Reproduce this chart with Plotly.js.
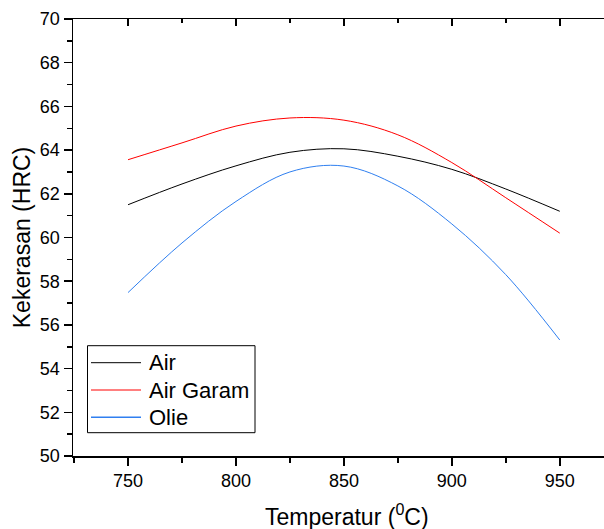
<!DOCTYPE html>
<html>
<head>
<meta charset="utf-8">
<script src="https://cdn.plot.ly/plotly-3.0.1.min.js"></script>
<style>html,body{margin:0;padding:0;background:#fff;}#chart{width:604px;height:529px;}</style>
</head>
<body>
<div id="chart"></div>
<script>
const temperature = [750, 775, 800, 825, 850, 875, 900, 925, 950];
const airValues = [61.5, 62.45, 63.28, 63.9, 64.06, 63.72, 63.12, 62.22, 61.2];
const airGaramValues = [63.56, 64.33, 65.1, 65.47, 65.37, 64.7, 63.43, 61.82, 60.2];
const olieValues = [57.48, 59.75, 61.65, 63.0, 63.27, 62.36, 60.62, 58.3, 55.31];
const seriesNames = ['Air', 'Air Garam', 'Olie'];
const xTickVals = [750, 800, 850, 900, 950];
const xMinorTickVals = [775, 825, 875, 925];
const yTickVals = [50, 52, 54, 56, 58, 60, 62, 64, 66, 68, 70];

const font = 'Arial, "Liberation Sans", sans-serif';
const colors = ['#000000', '#ff0000', '#2f7ff0'];
const series = [airValues, airGaramValues, olieValues];

const traces = series.map((vals, i) => ({
  x: temperature, y: vals, name: seriesNames[i], type: 'scatter', mode: 'lines',
  line: {color: colors[i], width: 1, shape: 'spline', smoothing: 1}
}));
// invisible traces to activate the top axes
['x2', 'x3'].forEach(ax => traces.push({x: temperature, y: airValues, xaxis: ax, yaxis: 'y',
  mode: 'lines', line: {width: 0, color: 'rgba(0,0,0,0)'}, showlegend: false, hoverinfo: 'skip'}));

// plot area in pixels: x 73..604, y 19..456
const PW = 531, PH = 437;
const px = v => (v - 73) / PW;
const py = v => (456 - v) / PH;

const shapes = [{type: 'rect', xref: 'paper', yref: 'paper', x0: px(87.5), x1: px(255),
  y0: py(432.7), y1: py(345.7), line: {color: '#000', width: 1}, fillcolor: 'rgba(0,0,0,0)'}];
const legRowsPx = [362.7, 390, 417.3];
const annotations = [];
seriesNames.forEach((name, i) => {
  shapes.push({type: 'line', xref: 'paper', yref: 'paper', x0: px(91), x1: px(141),
    y0: py(legRowsPx[i]), y1: py(legRowsPx[i]), line: {color: colors[i], width: i === 2 ? 1.6 : 1}});
  annotations.push({xref: 'paper', yref: 'paper', x: px(146.5), y: py(legRowsPx[i]),
    xanchor: 'left', yanchor: 'middle', showarrow: false, text: name,
    font: {family: font, size: 22, color: '#000'}});
});
annotations.push({xref: 'paper', yref: 'paper', x: px(346.5), y: py(515), xanchor: 'center',
  yanchor: 'middle', showarrow: false, text: 'Temperatur (<sup>0</sup>C)',
  font: {family: font, size: 23, color: '#000'}});

const xr = [724.5, 970.5];
const layout = {
  width: 604, height: 529,
  margin: {l: 73, r: 0, t: 19, b: 73},
  paper_bgcolor: '#fff', plot_bgcolor: '#fff',
  font: {family: font, color: '#000', size: 18},
  showlegend: false,
  shapes: shapes,
  annotations: annotations,
  xaxis: {
    range: xr, tickvals: xTickVals, ticktext: xTickVals.map(String),
    ticks: 'outside', ticklen: 8, tickwidth: 1.5, tickcolor: '#000',
    showline: true, linecolor: '#000', linewidth: 1.5, mirror: false,
    showgrid: false, zeroline: false,
    minor: {dtick: 25, tick0: 725, ticks: 'outside', ticklen: 5, tickwidth: 1.5, tickcolor: '#000', showgrid: false},
    tickfont: {family: font, size: 18}
  },
  xaxis2: {
    range: xr, overlaying: 'x', side: 'top', anchor: 'y', tickvals: xTickVals,
    showticklabels: false, ticks: 'inside', ticklen: 7, tickwidth: 1.5, tickcolor: '#000',
    showline: true, linecolor: '#000', linewidth: 1.5, showgrid: false, zeroline: false
  },
  xaxis3: {
    range: xr, overlaying: 'x', side: 'top', anchor: 'y', tickvals: xMinorTickVals,
    showticklabels: false, ticks: 'inside', ticklen: 4, tickwidth: 1.5, tickcolor: '#000',
    showline: false, showgrid: false, zeroline: false
  },
  yaxis: {
    range: [50, 70], tickvals: yTickVals, ticktext: yTickVals.map(String),
    ticks: 'outside', ticklen: 8, tickwidth: 1.5, tickcolor: '#000',
    showline: true, linecolor: '#000', linewidth: 1.5,
    showgrid: false, zeroline: false,
    minor: {dtick: 1, ticks: 'outside', ticklen: 5, tickwidth: 1.5, tickcolor: '#000', showgrid: false},
    tickfont: {family: font, size: 18},
    title: {text: 'Kekerasan (HRC)', font: {family: font, size: 23}, standoff: 3}
  }
};
Plotly.newPlot('chart', traces, layout, {displayModeBar: false, staticPlot: true});
</script>
</body>
</html>
